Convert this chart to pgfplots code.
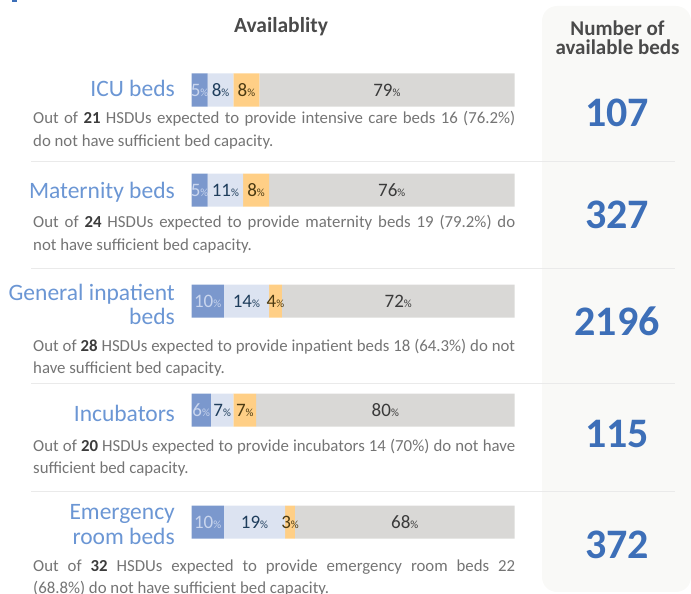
\documentclass[border=0pt]{standalone}
\usepackage{fontspec}
\setmainfont{Carlito}
\usepackage{pgfplots}
\usepackage{pgfplotstable}
\pgfplotsset{compat=1.18}
\definecolor{cBlue}{HTML}{7B98CD}
\definecolor{cLight}{HTML}{DCE3F1}
\definecolor{cOrange}{HTML}{FFCF86}
\definecolor{cGrey}{HTML}{D9D8D6}
\definecolor{tBlue}{HTML}{CAD6EE}
\definecolor{tLight}{HTML}{1E3D5C}
\definecolor{tOrange}{HTML}{4B3A12}
\definecolor{tGrey}{HTML}{3A3A3A}
\definecolor{catBlue}{HTML}{6B96D4}
\definecolor{numBlue}{HTML}{3D6FB8}
\definecolor{headGrey}{HTML}{4A4A4A}
\definecolor{capGrey}{HTML}{747474}
\definecolor{capDark}{HTML}{3C3C3C}
\definecolor{panel}{HTML}{F9F9F7}
\definecolor{sepGrey}{HTML}{EAEAEA}
\newcommand{\pc}{{\fontsize{11}{11}\selectfont\%}}

% label positions (segment centres, %) and baselines (px)
\pgfplotstableread{
x     y      lab
2.5   96.5   5
2.5   196.5  5
5     307.5  10
3     416.5  6
5     528.5  10
}\lblA
\pgfplotstableread{
x     y      lab
9     96.5   8
10.5  196.5  11
17    307.5  14
9.5   416.5  7
19.5  528.5  19
}\lblB
\pgfplotstableread{
x     y      lab
17    96.5   8
20    196.5  8
26    307.5  4
16.5  416.5  7
30.5  528.5  3
}\lblC
\pgfplotstableread{
x     y      lab
60.5  96.5   79
62    196.5  76
64    307.5  72
60    416.5  80
66    528.5  68
}\lblD
\pgfplotstableread{
x       y     lab
131.73  127   107
131.73  228   327
131.73  335   2196
131.73  447   115
131.73  558   372
}\beds

\pgfplotsset{myframe/.style={width=691pt,height=594pt,scale only axis,
  xmin=-59.288,xmax=154.644,ymin=0,ymax=594,y dir=reverse,hide axis,
  at={(0pt,0pt)},anchor=south west,clip=false}}

\begin{document}
\begin{tikzpicture}
\useasboundingbox (0pt,0pt) rectangle (691pt,594pt);
\begin{scope}[x=1pt,y=-1pt,yshift=594pt]
  \fill[panel, rounded corners=15pt] (542,6) rectangle (691,592);
  \fill[numBlue] (12,0) rectangle (17,2.5);
  \foreach \yy in {161.5,268.5,383.5,491.5}
    \draw[sepGrey, line width=1.5pt] (31,\yy) -- (675,\yy);
\end{scope}

\begin{axis}[myframe, xbar stacked, bar width=33pt]
  \addplot[fill=cBlue,draw=none] coordinates {(5,90) (5,190) (10,301) (6,410) (10,522)};
  \addplot[fill=cLight,draw=none] coordinates {(8,90) (11,190) (14,301) (7,410) (19,522)};
  \addplot[fill=cOrange,draw=none] coordinates {(8,90) (8,190) (4,301) (7,410) (3,522)};
  \addplot[fill=cGrey,draw=none] coordinates {(79,90) (76,190) (72,301) (80,410) (68,522)};
\end{axis}

\begin{axis}[myframe,
  every node near coord/.append style={anchor=base,inner sep=0pt,font=\fontsize{19}{19}\selectfont}]
  \addplot[draw=none,mark=none,point meta=explicit symbolic,
    nodes near coords={\pgfplotspointmeta\pc},
    every node near coord/.append style={text=tBlue}] table[x=x,y=y,meta=lab] {\lblA};
  \addplot[draw=none,mark=none,point meta=explicit symbolic,
    nodes near coords={\pgfplotspointmeta\pc},
    every node near coord/.append style={text=tLight}] table[x=x,y=y,meta=lab] {\lblB};
  \addplot[draw=none,mark=none,point meta=explicit symbolic,
    nodes near coords={\pgfplotspointmeta\pc},
    every node near coord/.append style={text=tOrange}] table[x=x,y=y,meta=lab] {\lblC};
  \addplot[draw=none,mark=none,point meta=explicit symbolic,
    nodes near coords={\pgfplotspointmeta\pc},
    every node near coord/.append style={text=tGrey}] table[x=x,y=y,meta=lab] {\lblD};
  \addplot[draw=none,mark=none,point meta=explicit symbolic,
    nodes near coords={\pgfplotspointmeta},
    every node near coord/.append style={text=numBlue,font=\fontsize{42}{42}\selectfont\bfseries}] table[x=x,y=y,meta=lab] {\beds};
\end{axis}

\begin{scope}[x=1pt,y=-1pt,yshift=594pt]
  \node[anchor=base,inner sep=0pt,font=\fontsize{21.5}{22}\selectfont\bfseries,text=headGrey] at (281,33) {Availablity};
  \node[anchor=base,inner sep=0pt,font=\fontsize{21}{22}\selectfont\bfseries,text=headGrey] at (617.5,36) {Number of};
  \node[anchor=base,inner sep=0pt,font=\fontsize{21}{22}\selectfont\bfseries,text=headGrey] at (617.5,55) {available beds};

  \tikzset{mycat/.style={anchor=base east,inner sep=0pt,font=\fontsize{23.5}{24}\selectfont,text=catBlue}}
  \node[mycat] at (175,97) {ICU beds};
  \node[mycat] at (175,199) {Maternity beds};
  \node[mycat] at (175,301) {General inpatient};
  \node[mycat] at (175,325) {beds};
  \node[mycat] at (175,421.5) {Incubators};
  \node[mycat] at (175,520) {Emergency};
  \node[mycat] at (175,545) {room beds};

  \tikzset{mycap/.style={anchor=base west,inner sep=0pt,text width=482pt,align=justify,
     font=\fontsize{16.8}{22.3}\selectfont,text=capGrey}}
  \node[mycap] at (33,124) {Out of \textbf{\color{capDark}21} HSDUs expected to provide intensive care beds 16 (76.2\%)\linebreak do not have sufficient bed capacity.};
  \node[mycap] at (33,228) {Out of \textbf{\color{capDark}24} HSDUs expected to provide maternity beds 19 (79.2\%) do\linebreak not have sufficient bed capacity.};
  \node[mycap] at (33,351.5) {Out of \textbf{\color{capDark}28} HSDUs expected to provide inpatient beds 18 (64.3\%) do not\linebreak have sufficient bed capacity.};
  \node[mycap] at (33,451.5) {Out of \textbf{\color{capDark}20} HSDUs expected to provide incubators 14 (70\%) do not have\linebreak sufficient bed capacity.};
  \node[mycap] at (33,571.5) {Out of \textbf{\color{capDark}32} HSDUs expected to provide emergency room beds 22\linebreak (68.8\%) do not have sufficient bed capacity.};
\end{scope}
\end{tikzpicture}
\end{document}
